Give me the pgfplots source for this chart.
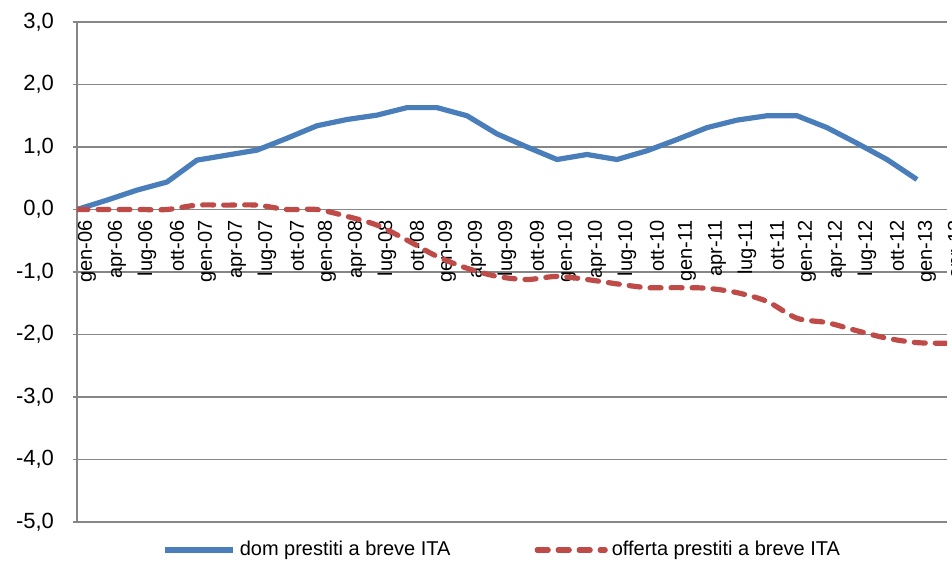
\documentclass[border=0pt]{standalone}
\usepackage{pgfplots}
\pgfplotsset{compat=1.18}
\usepackage{fontspec}
\setmainfont{Liberation Sans}
\definecolor{gridgray}{RGB}{134,134,134}
\definecolor{lineblue}{RGB}{74,126,187}
\definecolor{linered}{RGB}{190,75,72}
\begin{document}
\begin{tikzpicture}
\begin{axis}[
  name=ax,
  scale only axis,
  width=435pt, height=250pt,
  xmin=0, xmax=29, ymin=-5, ymax=3,
  axis y line*=left,
  axis x line*=middle,
  hide obscured x ticks=false,
  axis line style={gridgray, line width=0.8pt},
  every inner x axis line/.append style={-},
  every outer y axis line/.append style={-},
  ymajorgrids,
  grid style={gridgray, line width=0.8pt},
  ytick={-5,-4,...,3},
  xtick={0,...,29},
  xticklabels={gen-06,apr-06,lug-06,ott-06,gen-07,apr-07,lug-07,ott-07,gen-08,apr-08,lug-08,ott-08,gen-09,apr-09,lug-09,ott-09,gen-10,apr-10,lug-10,ott-10,gen-11,apr-11,lug-11,ott-11,gen-12,apr-12,lug-12,ott-12,gen-13,apr-13},
  xticklabel style={rotate=90, anchor=east, font=\fontsize{10}{12}\selectfont, yshift=-5pt},
  yticklabel style={font=\fontsize{11}{13}\selectfont, xshift=-6pt},
  xtick style={draw=none},
  ytick style={gridgray, line width=0.8pt},
  tick align=outside,
  major tick length=2pt,
  /pgf/number format/assume math mode=true,
  /pgf/number format/.cd, fixed, fixed zerofill, precision=1, use comma,
  /pgfplots/.cd,
  legend style={at={(0.49,-0.056)}, anchor=center, draw=none, fill=none,
    font=\fontsize{10}{12}\selectfont, legend columns=2,
    /tikz/every even column/.append style={column sep=40pt}},
  legend image code/.code={\draw[#1] (0pt,0pt) -- (34pt,0pt);},
]
\addplot[lineblue, line width=2.6pt, line join=round] coordinates {
(0,0) (1,0.15) (2,0.31) (3,0.44) (4,0.79) (5,0.87) (6,0.95) (7,1.14) (8,1.34) (9,1.44)
(10,1.51) (11,1.63) (12,1.63) (13,1.50) (14,1.21) (15,1.00) (16,0.80) (17,0.88) (18,0.80) (19,0.94)
(20,1.12) (21,1.31) (22,1.43) (23,1.50) (24,1.50) (25,1.31) (26,1.06) (27,0.80) (28,0.48)
};
\addlegendentry{dom prestiti a breve ITA}
\addplot[linered, line width=2.6pt, line cap=round, dash pattern=on 5.5pt off 5pt, smooth, tension=0.5] coordinates {
(0,0) (1,0) (2,0) (3,0) (4,0.07) (5,0.07) (6,0.07) (7,0.0) (8,0.0) (9,-0.11)
(10,-0.25) (11,-0.49) (12,-0.75) (13,-0.94) (14,-1.07) (15,-1.12) (16,-1.07) (17,-1.12) (18,-1.19) (19,-1.25)
(20,-1.25) (21,-1.26) (22,-1.33) (23,-1.47) (24,-1.74) (25,-1.81) (26,-1.94) (27,-2.06) (28,-2.13) (29,-2.14)
};
\addlegendentry{offerta prestiti a breve ITA}
\end{axis}
\pgfresetboundingbox
\path ([xshift=-38.5pt,yshift=-20.5pt]ax.south west) rectangle ([xshift=2.5pt,yshift=11pt]ax.north east);
\end{tikzpicture}
\end{document}
